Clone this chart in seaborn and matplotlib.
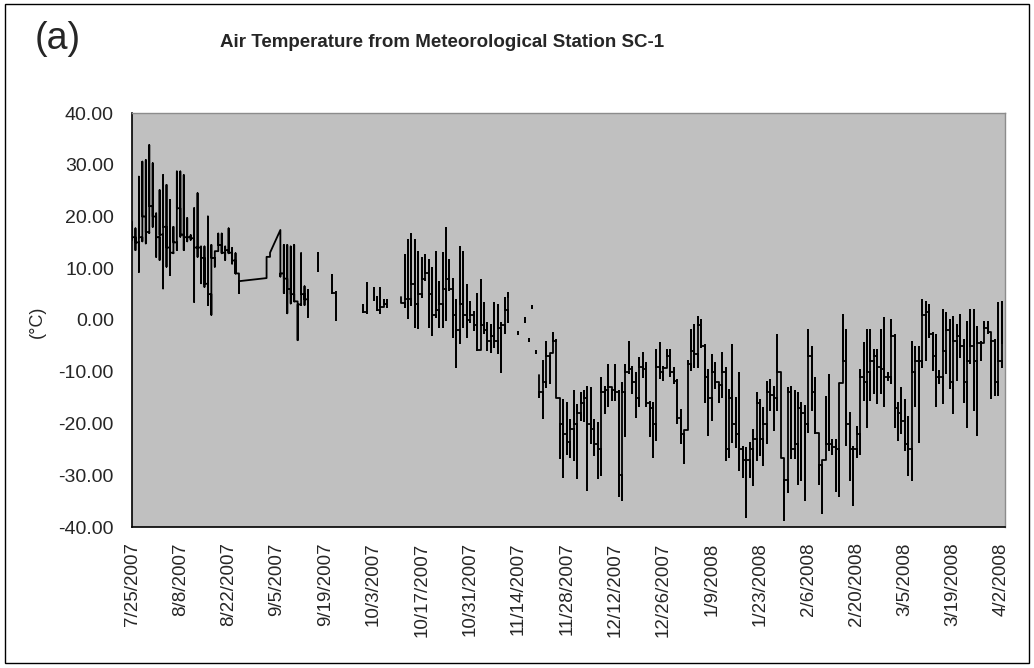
import matplotlib
matplotlib.use("Agg")
import matplotlib.pyplot as plt
import pandas as pd
import seaborn as sns
from matplotlib.patches import Rectangle

START = pd.Timestamp("2007-07-25")

# Daily readings, day offset from 7/25/2007.
# low / high = range of the hourly values that day, step = value carried to the next day (deg C)

# Jul - Sep 2007 (one connected stretch, rows missing 8/26-9/1 and 9/4-9/5)
summer_days = list(range(0, 32)) + [39, 40] + list(range(43, 52))
summer_low = [15.5, 13.5, 9.3, 15.2, 14.8, 16.8, 18.0, 12.2, 11.6, 6.1,
              10.3, 8.7, 12.9, 13.5, 16.1, 13.5, 15.2, 15.5, 3.5, 12.2,
              7.1, 6.4, 2.9, 1.0, 10.3, 13.5, 12.9, 11.6, 12.9, 10.9,
              9.0, 5.2, 8.1, 12.2, 8.4, 5.2, 1.3, 3.2, 3.6, -3.9,
              2.9, 2.9, 0.6]
summer_high = [19.0, 17.7, 27.7, 30.6, 30.9, 33.8, 30.3, 20.6, 25.1, 28.0,
               26.1, 23.2, 18.0, 28.7, 28.7, 28.0, 19.7, 16.4, 21.6, 24.5,
               14.2, 14.2, 20.0, 14.5, 13.2, 16.7, 16.7, 14.2, 17.7, 13.9,
               12.9, 9.0, 12.0, 13.0, 17.4, 14.5, 14.5, 14.2, 14.5, 3.6,
               12.9, 6.5, 5.8]
summer_step = [16.0, 15.0, 16.0, 20.0, 17.0, 22.0, 20.0, 16.0, 16.5, 18.0,
               14.0, 13.0, 15.0, 21.6, 16.5, 16.0, 16.0, 15.8, 14.0, 14.0,
               12.0, 7.0, 5.0, 12.0, 13.3, 14.5, 13.0, 13.5, 13.0, 11.5,
               9.0, 7.5, 12.2, 13.0, 9.0, 8.0, 6.0, 5.0, 3.6, 3.0,
               5.0, 4.0, 1.0]

# Sep - Oct 2007, short pieces between blank rows
gap_days = [54, 58, 59, 67, 68, 70, 71, 72, 73, 74]
gap_piece = [0, 1, 1, 2, 2, 3, 4, 4, 4, 4]
gap_low = [9.4, 5.2, 0.0, 1.6, 1.3, 3.9, 1.9, 1.3, 2.6, 2.6]
gap_high = [12.9, 8.7, 5.5, 2.9, 7.1, 6.1, 4.5, 6.1, 3.9, 3.9]
gap_step = [10.0, 5.2, 1.0, 1.6, 2.0, 4.0, 2.0, 2.6, 3.0, 3.5]

# Oct - Nov 2007
autumn_days = list(range(78, 110))
autumn_low = [3.2, 2.6, 0.3, 2.9, -1.3, -1.6, 4.5, 7.7, -1.3, -2.9,
              0.6, -1.3, -1.3, 0.0, 5.8, -3.2, -9.0, -4.5, -1.3, -3.2,
              -0.3, -1.9, -5.8, -5.8, -2.6, -5.8, -6.1, -5.2, -6.4, -10.0,
              -2.6, -0.3]
autumn_high = [4.5, 12.5, 15.4, 16.7, 15.4, 13.2, 11.9, 12.5, 11.6, 10.0,
               13.2, 7.4, 12.9, 17.7, 11.6, 8.0, 3.8, 14.2, 13.2, 6.7,
               3.5, 1.6, 5.1, 7.7, 3.2, -0.6, -1.0, 3.2, 2.9, -0.6,
               4.2, 5.2]
autumn_step = [3.2, 4.0, 4.0, 7.0, 3.0, 5.0, 8.0, 9.0, 5.0, 1.0,
               2.0, 3.0, 6.0, 8.0, 6.0, 1.0, -2.0, 3.0, 1.0, 0.0,
               1.0, -1.0, -5.8, -1.0, -2.0, -4.0, -3.0, -4.0, -1.5, -1.0,
               2.0, 4.5]

# isolated readings in mid November
dot_days = [112, 114, 115, 116, 117]
dot_low = [-2.8, -0.3, -4.1, 2.4, -6.3]
dot_high = [-2.4, 0.3, -3.7, 2.8, -5.9]
dot_step = [-2.6, 0.0, -3.9, 2.6, -6.1]

# Nov 2007 - Apr 2008
winter_days = list(range(118, 253))
winter_low = [-14.8, -19.0, -12.9, -12.2, -6.4, -14.8, -26.7, -30.3, -25.8, -26.4,
              -27.0, -30.6, -19.3, -19.6, -32.8, -23.8, -26.1, -30.6, -29.9, -18.0,
              -16.7, -15.5, -15.5, -34.1, -34.8, -22.5, -10.3, -14.2, -18.7, -16.7,
              -11.0, -16.7, -22.5, -26.4, -23.2, -11.3, -11.6, -9.3, -10.9, -12.2,
              -19.9, -23.8, -27.7, -21.2, -9.7, -9.0, -9.0, -5.2, -15.8, -22.2,
              -19.3, -13.2, -15.8, -14.8, -27.0, -26.4, -23.5, -24.5, -29.0, -30.3,
              -38.0, -30.3, -31.9, -27.0, -26.1, -28.0, -23.8, -17.4, -21.2, -17.4,
              -26.7, -38.6, -33.2, -26.7, -26.7, -31.6, -30.9, -34.8, -21.6, -17.4,
              -21.9, -31.6, -37.3, -27.0, -25.1, -25.8, -33.0, -34.0, -12.2, -24.2,
              -31.0, -35.7, -26.4, -25.8, -15.5, -20.6, -15.5, -14.2, -16.1, -14.2,
              -16.7, -11.6, -12.2, -20.6, -23.2, -21.9, -25.1, -30.0, -31.0, -16.7,
              -23.5, -9.0, -7.7, -3.2, -9.7, -16.7, -12.2, -16.1, -10.3, -13.2,
              -18.0, -11.6, -7.1, -15.8, -20.6, -8.4, -17.4, -22.2, -7.7, -4.5,
              -2.6, -15.1, -14.5, -14.5, -9.0]
winter_high = [-10.6, -8.0, -4.2, -6.4, -2.6, -3.9, -15.1, -15.5, -16.1, -19.3,
               -13.8, -16.4, -14.2, -13.8, -12.9, -13.2, -19.3, -19.9, -11.3, -12.9,
               -8.7, -12.9, -8.7, -13.8, -12.2, -8.7, -4.2, -9.0, -10.3, -7.4,
               -6.4, -8.4, -15.8, -16.1, -5.8, -4.5, -9.0, -5.8, -5.8, -9.3,
               -11.6, -17.4, -21.2, -8.0, -1.9, -1.0, 0.6, 0.0, -4.8, -9.7,
               -6.8, -8.4, -11.9, -6.4, -9.3, -13.5, -4.8, -15.1, -10.3, -24.5,
               -24.8, -23.8, -21.2, -14.2, -15.5, -17.1, -11.9, -11.6, -12.9, -2.9,
               -10.0, -26.7, -13.2, -12.9, -13.8, -14.2, -16.1, -16.7, -1.9, -5.2,
               -11.3, -21.9, -27.0, -14.8, -10.6, -23.2, -23.2, -12.2, 1.0, -1.9,
               -18.0, -24.5, -20.6, -9.7, -4.5, -1.9, -1.9, -5.8, -5.8, -1.9,
               0.3, -10.3, 0.0, -2.9, -16.1, -13.2, -15.5, -18.7, -4.2, -5.2,
               -5.2, 3.9, 3.5, 2.9, -2.6, -2.9, -9.9, 1.9, 1.3, 0.0,
               0.6, -1.0, 1.0, -3.9, -0.3, 1.9, 1.9, -1.3, -4.2, -0.3,
               -0.3, -2.3, -3.9, 3.2, 3.5]
winter_step = [-14.0, -12.0, -7.0, -6.4, -4.0, -15.0, -20.0, -22.0, -23.5, -21.0,
               -20.0, -18.0, -16.0, -15.0, -20.0, -21.0, -24.0, -25.0, -14.0, -13.5,
               -13.0, -13.5, -14.0, -30.0, -14.0, -10.0, -9.5, -12.0, -15.0, -9.0,
               -9.5, -16.0, -17.0, -20.0, -9.0, -10.0, -9.2, -7.0, -10.0, -11.8,
               -19.0, -22.0, -21.2, -8.5, -6.0, -6.5, -1.0, -5.0, -11.0, -15.0,
               -10.0, -12.0, -12.5, -10.0, -25.0, -15.0, -20.0, -22.0, -25.0, -27.0,
               -27.0, -25.0, -23.0, -16.0, -23.0, -20.0, -14.0, -14.5, -15.0, -10.0,
               -26.7, -31.0, -14.0, -25.0, -24.0, -17.0, -18.0, -20.0, -7.0, -14.0,
               -21.9, -28.0, -27.0, -24.0, -24.0, -24.5, -25.0, -12.2, -8.0, -20.0,
               -25.0, -25.0, -22.0, -11.0, -12.0, -10.0, -8.0, -7.0, -9.0, -9.5,
               -11.0, -11.0, -3.0, -17.0, -18.0, -19.5, -24.0, -25.0, -10.0, -8.0,
               -8.0, 1.0, 1.5, -2.8, -7.0, -11.0, -11.0, -6.0, -2.0, -12.0,
               -4.0, -3.0, -5.0, -12.0, -8.0, -5.0, -8.0, -4.5, -4.4, -1.5,
               -2.3, -4.0, -12.0, -8.0, -4.5]

tick_dates = pd.date_range(START, "2008-04-02", freq="14D")
y_ticks = [-40, -30, -20, -10, 0, 10, 20, 30, 40]


def build_path(days, low, high, step, piece):
    # Excel plots every hourly value of a day at the same x, so each day is a
    # vertical stroke; consecutive days are joined at the carried-over value
    rows = []
    for i, d in enumerate(days):
        same_piece = i > 0 and piece[i] == piece[i - 1]
        if same_piece and d - days[i - 1] == 1:
            first = step[i - 1]
        elif same_piece:
            # missing rows: Excel draws straight to the next row's first value
            prev = step[i - 1]
            first = low[i] if abs(low[i] - prev) < abs(high[i] - prev) else high[i]
        else:
            first = high[i]
        for v in (first, low[i], high[i], step[i]):
            rows.append({"date": START + pd.Timedelta(days=d), "temp": v, "piece": piece[i]})
    return rows


rows = []
rows += build_path(summer_days, summer_low, summer_high, summer_step, [0] * len(summer_days))
rows += build_path(gap_days, gap_low, gap_high, gap_step, [1 + p for p in gap_piece])
rows += build_path(autumn_days, autumn_low, autumn_high, autumn_step, [6] * len(autumn_days))
rows += build_path(dot_days, dot_low, dot_high, dot_step, [7 + i for i in range(len(dot_days))])
rows += build_path(winter_days, winter_low, winter_high, winter_step, [12] * len(winter_days))
df = pd.DataFrame(rows)

sns.set_style("white")
plt.rcParams["font.family"] = ["Liberation Sans", "DejaVu Sans"]

W, H = 1034, 668
fig = plt.figure(figsize=(W / 100, H / 100), dpi=100)
ax = fig.add_axes([132 / W, 1 - 527 / H, 873 / W, 414 / H])
ax.set_facecolor("#C0C0C0")

sns.lineplot(data=df, x="date", y="temp", units="piece", estimator=None, sort=False,
             color="black", linewidth=1.3, legend=False, ax=ax)

ax.set_xlim(START, START + pd.Timedelta(days=253))
ax.set_ylim(-40, 40)
ax.set_xticks(tick_dates)
ax.set_xticklabels([f"{t.month}/{t.day}/{t.year}" for t in tick_dates], rotation=90, fontsize=13.5)
ax.set_yticks(y_ticks)
ax.set_yticklabels([f"{v:.2f}" for v in y_ticks], fontsize=14)
ax.tick_params(axis="both", direction="out", length=5, width=1, color="black")
ax.tick_params(axis="x", pad=6)
ax.tick_params(axis="y", pad=8)
ax.set_xlabel("")
ax.set_ylabel("")

for side in ["left", "bottom"]:
    ax.spines[side].set_color("black")
    ax.spines[side].set_linewidth(1.2)
for side in ["top", "right"]:
    ax.spines[side].set_color("#8C8C8C")
    ax.spines[side].set_linewidth(1)

fig.text(442 / W, 1 - 47 / H, "Air Temperature from Meteorological Station SC-1",
         ha="center", va="baseline", fontsize=13.5, fontweight="bold")
fig.text(35 / W, 1 - 49 / H, "(a)", ha="left", va="baseline", fontsize=27)
fig.text(37 / W, 1 - 322 / H, "(°C)", ha="center", va="center", rotation=90, fontsize=13)

fig.patches.append(Rectangle((5 / W, 1 - 663 / H), 1024 / W, 659 / H, transform=fig.transFigure,
                             fill=False, edgecolor="black", linewidth=1))

fig.savefig("out.png", dpi=100)
